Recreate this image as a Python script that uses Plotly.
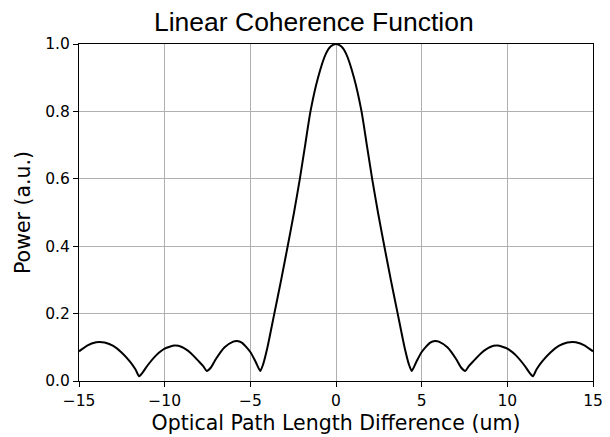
import plotly.graph_objects as go

opd_um = [
    -15.0, -14.5, -14.0, -13.8, -13.5, -13.0, -12.5, -12.0, -11.7, -11.49,
    -11.3, -11.0, -10.5, -10.0, -9.42, -9.0, -8.5, -8.0, -7.75, -7.54,
    -7.3, -7.0, -6.5, -6.0, -5.78, -5.5, -5.0, -4.7, -4.42,
    -4.25, -4.0, -3.6, -3.2, -2.82, -2.45, -2.11, -1.8, -1.49, -1.05, -0.6, -0.3, 0.0,
    0.3, 0.6, 1.05, 1.49, 1.8, 2.11, 2.45, 2.82, 3.2, 3.6, 4.0, 4.25,
    4.42, 4.7, 5.0, 5.5, 5.78, 6.0, 6.5, 7.0, 7.3,
    7.54, 7.75, 8.0, 8.5, 9.0, 9.42, 10.0, 10.5, 11.0, 11.3,
    11.49, 11.7, 12.0, 12.5, 13.0, 13.5, 13.8, 14.0, 14.5, 15.0,
]
power_au = [
    0.088, 0.106, 0.115, 0.116, 0.114, 0.104, 0.084, 0.056, 0.034, 0.014,
    0.024, 0.046, 0.076, 0.096, 0.105, 0.101, 0.084, 0.058, 0.044, 0.030,
    0.040, 0.066, 0.100, 0.117, 0.119, 0.114, 0.086, 0.058, 0.030,
    0.050, 0.100, 0.200, 0.300, 0.400, 0.500, 0.600, 0.700, 0.800, 0.900, 0.970, 0.993, 1.000,
    0.993, 0.970, 0.900, 0.800, 0.700, 0.600, 0.500, 0.400, 0.300, 0.200, 0.100, 0.050,
    0.030, 0.058, 0.086, 0.114, 0.119, 0.117, 0.100, 0.066, 0.040,
    0.030, 0.044, 0.058, 0.084, 0.101, 0.105, 0.096, 0.076, 0.046, 0.024,
    0.014, 0.034, 0.056, 0.084, 0.104, 0.114, 0.116, 0.115, 0.106, 0.088,
]
x_ticks = [-15, -10, -5, 0, 5, 10, 15]
y_ticks = [0.0, 0.2, 0.4, 0.6, 0.8, 1.0]
y_tick_labels = ["0.0", "0.2", "0.4", "0.6", "0.8", "1.0"]

fig = go.Figure()
fig.add_trace(go.Scatter(
    x=opd_um, y=power_au, mode="lines",
    line=dict(color="black", width=2, shape="spline", smoothing=0.6),
    showlegend=False, hoverinfo="skip",
))

font_family = "DejaVu Sans"
fig.update_layout(
    width=602, height=429,
    margin=dict(l=71, r=17, t=36, b=56, autoexpand=False),
    paper_bgcolor="white", plot_bgcolor="white",
    font=dict(family=font_family, color="black", size=15.5),
    title=dict(text="Linear Coherence Function", xref="container", x=0.508,
               xanchor="center", yref="container", y=0.967, yanchor="middle",
               font=dict(family="Liberation Sans, Arial, sans-serif", size=26.5, color="black")),
)
axis_common = dict(
    showline=True, linecolor="black", linewidth=1.2, mirror=True,
    ticks="outside", ticklen=5, tickwidth=1.2, tickcolor="black",
    showgrid=True, gridcolor="#b0b0b0", gridwidth=1,
    zeroline=False, tickfont=dict(size=15.5, color="black"), automargin=False,
)
fig.update_xaxes(
    range=[-15, 15], tickvals=x_ticks,
    title=dict(text="Optical Path Length Difference (um)", font=dict(size=20.5), standoff=6),
    **axis_common,
)
fig.update_yaxes(
    range=[0, 1.0], tickvals=y_ticks, ticktext=y_tick_labels,
    title=dict(text="Power (a.u.)", font=dict(size=20.5), standoff=8),
    **axis_common,
)

fig.write_html("out.html")
